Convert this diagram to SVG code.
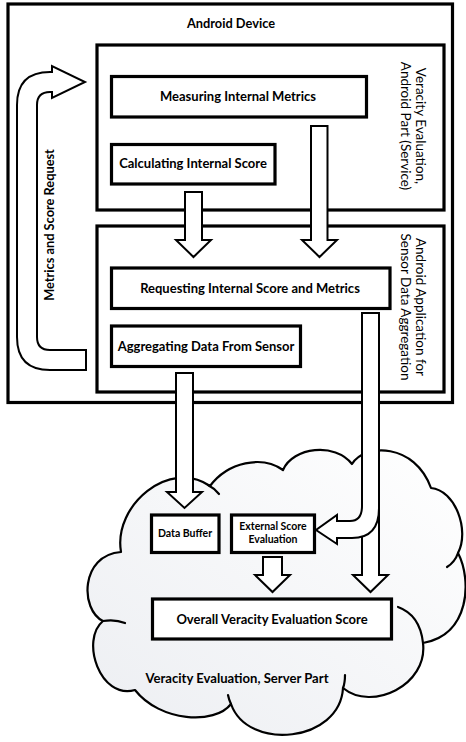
<svg xmlns="http://www.w3.org/2000/svg" width="466" height="742" viewBox="0 0 466 742">
<style>
.box{fill:#fff;stroke:#000;stroke-width:3.2}
.frame{fill:none;stroke:#000;stroke-width:3.2}
.arr{fill:#fff;stroke:#000;stroke-width:2;stroke-linejoin:miter}
.t{font-family:Lato,"Open Sans","Liberation Sans",sans-serif;font-weight:bold;fill:#000;text-anchor:middle}
.r{font-family:Lato,"Open Sans","Liberation Sans",sans-serif;font-weight:normal;fill:#000;text-anchor:middle;font-size:13.5px}
.cloud{stroke:#000;stroke-width:2.2;stroke-linejoin:round}
.tail{fill:none;stroke:#000;stroke-width:2.2;stroke-linecap:round}
</style>
<defs>
<linearGradient id="cg" x1="0" y1="1" x2="1" y2="0">
<stop offset="0" stop-color="#eceef2"/>
<stop offset="1" stop-color="#ffffff"/>
</linearGradient>
</defs>
<rect width="466" height="742" fill="#fff"/>

<g id="cloud">
<path class="cloud" fill="url(#cg)" d="M121,552 C113,505 170,458 210,486 C228,462 262,455 283,470 C293,447 335,442 352,464 C365,443 415,443 431,488 C455,490 470,530 458,553 C472,580 470,635 423,643 C428,685 372,712 343,688 C340,742 248,752 231,704 C215,725 160,722 135,690 C100,700 80,640 103,621 C80,610 80,555 121,552 Z"/>
<path class="tail" d="M208,485 Q214,488 219,494"/>
<path class="tail" d="M458,553 Q455,562 447,567"/>
<path class="tail" d="M398,607 Q420,615 423,643"/>
<path class="tail" d="M345,675 Q345,683 343,688"/>
<path class="tail" d="M231,704 Q229,700 228,695"/>
<path class="tail" d="M103,621 Q115,619 125,623"/>
<text class="t" x="237" y="683" font-size="13.1">Veracity Evaluation, Server Part</text>
</g>

<g id="android-device">
<rect class="frame" x="8" y="4" width="444.5" height="398.5"/>
<text class="t" x="231" y="28" font-size="12.8">Android Device</text>
</g>

<g id="service">
<rect class="frame" x="97" y="45" width="347" height="165"/>
<text class="r" transform="translate(416,126) rotate(90)">Veracity Evaluation,</text>
<text class="r" transform="translate(401,126) rotate(90)">Android Part (Service)</text>
</g>

<g id="app">
<rect class="frame" x="97" y="226" width="347" height="166"/>
<text class="r" transform="translate(416,307) rotate(90)">Android Application for</text>
<text class="r" transform="translate(401,307) rotate(90)">Sensor Data Aggregation</text>
</g>

<g id="measuring">
<rect class="box" x="111.5" y="76.5" width="255" height="40.5"/>
<text class="t" x="238" y="101" font-size="13">Measuring Internal Metrics</text>
</g>
<g id="calculating">
<rect class="box" x="111.5" y="144.5" width="163.5" height="39.5"/>
<text class="t" x="193" y="168" font-size="13">Calculating Internal Score</text>
</g>
<g id="requesting">
<rect class="box" x="111.5" y="268" width="278.5" height="40.5"/>
<text class="t" x="250" y="293" font-size="13">Requesting Internal Score and Metrics</text>
</g>
<g id="aggregating">
<rect class="box" x="111.5" y="326" width="189" height="40.5"/>
<text class="t" x="206" y="351" font-size="13">Aggregating Data From Sensor</text>
</g>
<g id="data-buffer">
<rect class="box" x="151.5" y="515" width="67.5" height="37.5"/>
<text class="t" x="185" y="537" font-size="10.5">Data Buffer</text>
</g>
<g id="external">
<rect class="box" x="231.5" y="515" width="83" height="37.5"/>
<text class="t" x="273" y="530" font-size="10.5">External Score</text>
<text class="t" x="273" y="543" font-size="10.5">Evaluation</text>
</g>
<g id="overall">
<rect class="box" x="152.5" y="599" width="239" height="40"/>
<text class="t" x="272" y="624" font-size="13">Overall Veracity Evaluation Score</text>
</g>

<g id="connectors">
<path class="arr" d="M185,192 H202 V240 H211 L193.5,257 L176,240 H185 Z"/>
<path class="arr" d="M311,126 H327.5 V240 H337 L319.5,257 L302,240 H311 Z"/>
<path class="arr" d="M176,373 H193 V492 H202 L184.5,508 L167,492 H176 Z"/>
<path class="arr" d="M362,313 H379 V575 H388 L370.5,592 L353,575 H362 Z"/>
<path class="arr" d="M362,313 H379 V508 Q379,538 352,538 H337 V544 L316,530 L337,515 V521 H350 Q362,521 362,506 Z"/>
<path class="arr" d="M263,557 H282 V575 H290 L272.5,592 L255,575 H263 Z"/>
<path class="arr" d="M86,350 V370 H50 Q17,370 17,337 V105 Q17,72 50,72 H52 V66 L85,82 L52,98 V92 H50 Q37,92 37,105 V337 Q37,350 50,350 Z"/>
<text class="t" font-size="12.8" transform="translate(54,225) rotate(-90)">Metrics and Score Request</text>
</g>
</svg>
